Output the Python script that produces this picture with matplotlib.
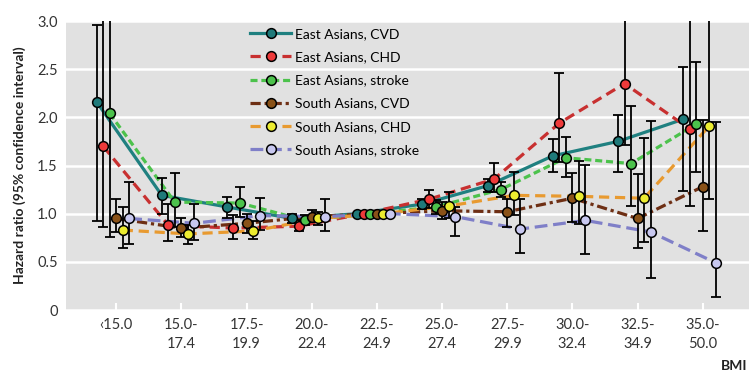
import numpy as np
import matplotlib
matplotlib.use("Agg")
import matplotlib.pyplot as plt
from matplotlib.lines import Line2D

plt.rcParams['font.family'] = ['Lato', 'DejaVu Sans']

# BMI bands on the x axis
bmi_labels = ['\u203915.0', '15.0-\n17.4', '17.5-\n19.9', '20.0-\n22.4', '22.5-\n24.9',
              '25.0-\n27.4', '27.5-\n29.9', '30.0-\n32.4', '32.5-\n34.9', '35.0-\n50.0']

nan = np.nan

# hazard ratios with lower / upper 95% limits (22.5-24.9 is the reference)
east_cvd = [2.16, 1.19, 1.07, 0.95, 1.00, 1.10, 1.29, 1.60, 1.75, 1.98]
east_cvd_lo = [0.92, 1.00, 0.95, 0.90, nan, 1.05, 1.22, 1.43, 1.43, 1.24]
east_cvd_hi = [2.96, 1.37, 1.17, 1.00, nan, 1.15, 1.36, 1.77, 2.02, 2.52]

east_chd = [1.70, 0.88, 0.85, 0.87, 1.00, 1.15, 1.36, 1.94, 2.35, 1.88]
east_chd_lo = [0.86, 0.72, 0.74, 0.82, nan, 1.06, 1.22, 1.54, 1.71, 1.08]
east_chd_hi = [3.40, 1.10, 0.99, 0.93, nan, 1.25, 1.53, 2.46, 3.30, 3.30]

east_stroke = [2.04, 1.12, 1.11, 0.93, 1.00, 1.07, 1.25, 1.58, 1.52, 1.93]
east_stroke_lo = [0.76, 0.86, 0.97, 0.88, nan, 1.00, 1.17, 1.38, 1.08, 1.43]
east_stroke_hi = [3.40, 1.42, 1.28, 0.99, nan, 1.14, 1.33, 1.80, 2.12, 2.57]

south_cvd = [0.95, 0.85, 0.90, 0.97, 1.00, 1.03, 1.02, 1.16, 0.95, 1.28]
south_cvd_lo = [0.81, 0.76, 0.80, 0.91, nan, 0.94, 0.86, 0.91, 0.64, 0.82]
south_cvd_hi = [1.15, 0.95, 1.00, 1.04, nan, 1.12, 1.15, 1.42, 1.41, 1.97]

south_chd = [0.83, 0.79, 0.82, 0.95, 1.00, 1.08, 1.19, 1.18, 1.16, 1.91]
south_chd_lo = [0.64, 0.68, 0.74, 0.88, nan, 0.95, 0.99, 0.89, 0.71, 1.15]
south_chd_hi = [1.07, 0.88, 0.92, 1.02, nan, 1.23, 1.43, 1.55, 1.79, 3.30]

south_stroke = [0.95, 0.90, 0.98, 0.97, 1.00, 0.97, 0.84, 0.93, 0.81, 0.49]
south_stroke_lo = [0.69, 0.73, 0.83, 0.82, nan, 0.77, 0.59, 0.58, 0.33, 0.13]
south_stroke_hi = [1.33, 1.10, 1.16, 1.15, nan, 1.07, 1.15, 1.51, 1.96, 1.95]

series = [
    ('East Asians, CVD', east_cvd, east_cvd_lo, east_cvd_hi, '#1f8080', '#1f7a7a', '-'),
    ('East Asians, CHD', east_chd, east_chd_lo, east_chd_hi, '#c83030', '#ee3a3a', (0, (3.2, 1.8))),
    ('East Asians, stroke', east_stroke, east_stroke_lo, east_stroke_hi, '#4cc24c', '#4cc24c', (0, (2.2, 1.2))),
    ('South Asians, CVD', south_cvd, south_cvd_lo, south_cvd_hi, '#6e2f14', '#8a5218', (0, (3.2, 1.2, 1, 1.2))),
    ('South Asians, CHD', south_chd, south_chd_lo, south_chd_hi, '#e89a30', '#ecec30', (0, (3.2, 1.8))),
    ('South Asians, stroke', south_stroke, south_stroke_lo, south_stroke_hi, '#7f7fc8', '#c8c8f0', (0, (4, 1.8))),
]

fig = plt.figure(figsize=(7.49, 3.76), dpi=100)
ax = fig.add_axes([66 / 749, 1 - 310 / 376, 683 / 749, 289 / 376])
ax.set_facecolor('#e1e1e1')

x = np.arange(len(bmi_labels))
offsets = [-0.3, -0.2, -0.1, 0.0, 0.1, 0.2]

handles = []
for (name, hr, lo, hi, lcol, mcol, ls), off in zip(series, offsets):
    xs = x + off
    hr = np.array(hr)
    lo = np.array(lo)
    hi = np.array(hi)
    ax.plot(xs, hr, color=lcol, lw=2.3, ls=ls, zorder=2)
    ok = ~np.isnan(lo)
    ax.errorbar(xs[ok], hr[ok], yerr=[hr[ok] - lo[ok], hi[ok] - hr[ok]], fmt='none',
                ecolor='black', elinewidth=1.3, capsize=3.5, capthick=1.3, zorder=3)
    ax.plot(xs, hr, ls='none', marker='o', ms=7, mfc=mcol, mec='black', mew=1.1, zorder=4)
    handles.append(Line2D([], [], color=lcol, lw=2.3, ls=ls, marker='o', ms=7,
                          mfc=mcol, mec='black', mew=1.1, label=name))

ax.set_xlim(-0.77, 9.71)
ax.set_ylim(0, 3.0)
ax.set_yticks([0, 0.5, 1.0, 1.5, 2.0, 2.5, 3.0])
ax.set_yticklabels(['0', '0.5', '1.0', '1.5', '2.0', '2.5', '3.0'])
ax.set_xticks(x)
ax.set_xticklabels(bmi_labels, linespacing=1.45)
ax.yaxis.grid(True, color='white', lw=1.8)
ax.set_axisbelow(True)
for s in ax.spines.values():
    s.set_visible(False)
ax.tick_params(axis='y', length=0, labelsize=10.5, labelcolor='#333333', pad=6)
ax.tick_params(axis='x', direction='in', length=5, width=1.5, color='white',
               labelsize=10.5, labelcolor='#333333', pad=6)

ax.set_ylabel('Hazard ratio (95% confidence interval)', fontsize=10, fontweight='bold',
              color='#222222', labelpad=8)

ax.legend(handles=handles, loc='upper left', bbox_to_anchor=(0.27, 0.975), frameon=False,
          fontsize=10, handlelength=2.9, handletextpad=0.3, labelspacing=0.8,
          borderpad=0, borderaxespad=0)

fig.text(0.998, 0.01, 'BMI', ha='right', va='bottom', fontsize=10, fontweight='bold',
         color='#222222')

fig.savefig('out.png', dpi=100)
